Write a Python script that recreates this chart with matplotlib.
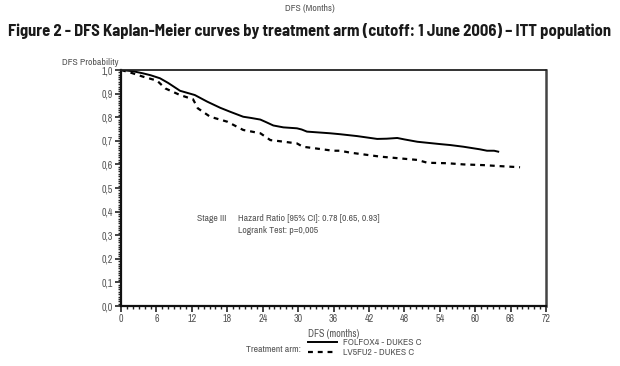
import matplotlib
matplotlib.use('Agg')
import matplotlib.pyplot as plt
from matplotlib.ticker import MultipleLocator, FuncFormatter
from matplotlib.lines import Line2D

# KM curves (months, probability)
folfox_m = [0, 2, 3.7, 5, 6.6, 8, 10, 12.5, 14.6, 16.8, 18.5, 20.7, 22, 23.6, 24.5, 25.8,
            27.5, 29.8, 30.6, 31.5, 35.4, 37.1, 40, 43.4, 45, 46.8, 48, 50.2, 54.1, 55.8,
            58, 60.8, 62, 63.2, 63.9]
folfox_p = [1.0, 0.995, 0.986, 0.978, 0.965, 0.945, 0.912, 0.894, 0.866, 0.840, 0.823, 0.802,
            0.797, 0.790, 0.780, 0.765, 0.757, 0.753, 0.748, 0.739, 0.732, 0.728, 0.720, 0.708,
            0.709, 0.712, 0.706, 0.696, 0.686, 0.682, 0.675, 0.664, 0.658, 0.658, 0.654]
lv5fu2_m = [0, 1.5, 3.7, 6.1, 7.5, 10, 12.2, 13, 15.1, 18, 20.7, 23.6, 25.3, 27, 29.8, 30.8,
            35.9, 37.1, 38.8, 43.9, 50.2, 51.9, 55.3, 58, 61.4, 64, 67.6]
lv5fu2_p = [1.0, 0.990, 0.972, 0.955, 0.922, 0.894, 0.876, 0.838, 0.802, 0.781, 0.746, 0.732,
            0.703, 0.698, 0.689, 0.675, 0.658, 0.658, 0.650, 0.633, 0.619, 0.607, 0.605, 0.600,
            0.597, 0.593, 0.588]

x_ticks = list(range(0, 73, 6))
y_ticks = [0.0, 0.1, 0.2, 0.3, 0.4, 0.5, 0.6, 0.7, 0.8, 0.9, 1.0]
arm_labels = ['FOLFOX4 - DUKES C', 'LV5FU2 - DUKES C']
title = 'Figure 2 - DFS Kaplan-Meier curves by treatment arm (cutoff: 1 June 2006) \u2013 ITT population'

plt.rcParams['font.family'] = ['Archivo Narrow', 'Liberation Sans', 'DejaVu Sans']
title_fams = ['Barlow Semi Condensed', 'Liberation Sans', 'DejaVu Sans']
grey = '#555555'
small = 7.0

fig = plt.figure(figsize=(6.2, 3.66), dpi=100)
ax = fig.add_axes([0.1952, 0.1639, 0.6855, 0.6448])

ax.plot(folfox_m, folfox_p, color='black', lw=1.4, solid_joinstyle='round')
ax.plot(lv5fu2_m, lv5fu2_p, color='black', lw=1.6, linestyle=(0, (2.2, 2.2)))

ax.set_xlim(0, 72)
ax.set_ylim(0, 1)
ax.set_xticks(x_ticks)
ax.set_yticks(y_ticks)
ax.xaxis.set_minor_locator(MultipleLocator(1))
ax.yaxis.set_minor_locator(MultipleLocator(0.01))
ax.yaxis.set_major_formatter(FuncFormatter(lambda v, p: ('%.1f' % v).replace('.', ',')))
ax.tick_params(which='major', direction='out', length=4, width=1.2, colors='#222222',
               labelsize=7.2, labelcolor=grey, pad=2)
ax.tick_params(which='minor', direction='out', length=2, width=1.0, colors='#222222')
ax.tick_params(axis='x', which='both', top=False)
ax.tick_params(axis='y', which='both', right=False)

for s in ['left', 'bottom']:
    ax.spines[s].set_linewidth(1.6)
    ax.spines[s].set_color('#111111')
ax.spines['top'].set_linewidth(1.3)
ax.spines['top'].set_color('#222222')
ax.spines['right'].set_linewidth(1.8)
ax.spines['right'].set_color('#444444')

ax.set_xlabel('DFS (months)', fontsize=7.2, color=grey, labelpad=3)

fig.text(0.5, 0.978, 'DFS (Months)', fontsize=small, color=grey, ha='center', va='center')
t = fig.text(0.5, 0.915, title, fontsize=11, fontweight='bold', family=title_fams,
             color='#1a1a1a', ha='center', va='center')
# scale the title so it spans about 604 px like the reference
fig.canvas.draw()
w = t.get_window_extent().width
t.set_fontsize(11 * 604 / w)

fig.text(0.100, 0.830, 'DFS Probability', fontsize=small, color=grey, ha='left', va='center')

ax.text(0.178, 0.372, 'Stage III', transform=ax.transAxes, fontsize=small, color=grey, va='center')
ax.text(0.275, 0.372, 'Hazard Ratio [95% CI]: 0.78 [0.65, 0.93]', transform=ax.transAxes,
        fontsize=small, color=grey, va='center')
ax.text(0.275, 0.322, 'Logrank Test: p=0,005', transform=ax.transAxes,
        fontsize=small, color=grey, va='center')

# legend below the axis
fig.text(0.486, 0.046, 'Treatment arm:', fontsize=small, color=grey, ha='right', va='center')
handles = [Line2D([], [], color='black', lw=1.4),
           Line2D([], [], color='black', lw=1.6, linestyle=(0, (2.2, 2.2)))]
fig.legend(handles, arm_labels, loc='center left', bbox_to_anchor=(0.489, 0.05),
           frameon=False, fontsize=small, labelcolor=grey, handlelength=3.0,
           handletextpad=0.6, labelspacing=0.05, borderpad=0)

fig.savefig('out.png', dpi=100)
